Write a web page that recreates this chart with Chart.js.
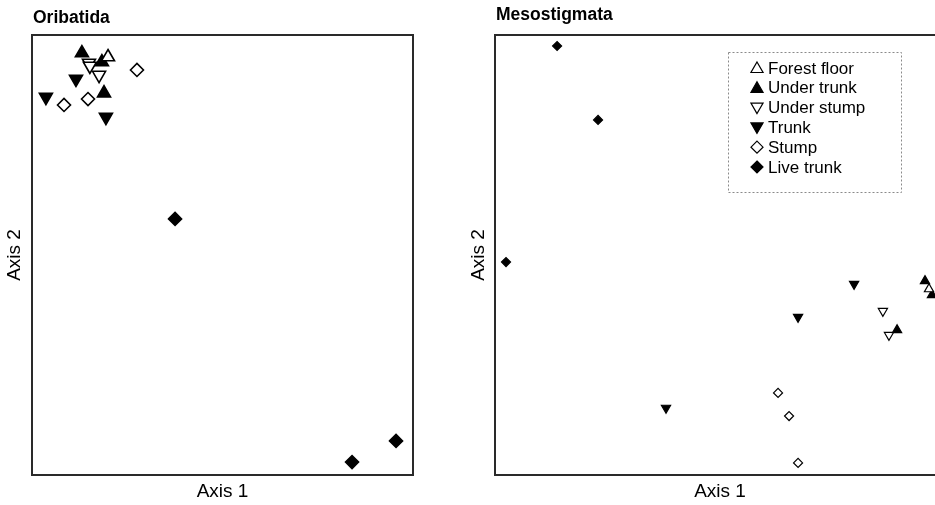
<!DOCTYPE html>
<html><head><meta charset="utf-8">
<script src="https://cdn.jsdelivr.net/npm/chart.js@4/dist/chart.umd.min.js"></script>
<style>
html,body{margin:0;padding:0;background:#fff;overflow:hidden;width:935px;height:505px;position:relative}
#c1{position:absolute;left:0;top:0}
#c2{position:absolute;left:464px;top:0}
</style></head><body>
<canvas id="c1" width="440" height="505"></canvas>
<canvas id="c2" width="500" height="505"></canvas>
<script>
// ---- data (NMDS-like scores) ----
const groupNames = ["Forest floor", "Under trunk", "Under stump", "Trunk", "Stump", "Live trunk"];

const oribForestFloor = [[-0.601, 0.900]];
const oribUnderTrunk  = [[-0.738, 0.918], [-0.633, 0.877], [-0.622, 0.736]];
const oribUnderStump  = [[-0.701, 0.873], [-0.696, 0.859], [-0.648, 0.818]];
const oribTrunk       = [[-0.769, 0.800], [-0.927, 0.718], [-0.612, 0.627]];
const oribStump       = [[-0.449, 0.841], [-0.832, 0.682], [-0.706, 0.709]];
const oribLiveTrunk   = [[-0.249, 0.164], [0.680, -0.941], [0.911, -0.845]];

const mesoForestFloor = [[0.929, -0.155]];
const mesoUnderTrunk  = [[0.911, -0.118], [0.942, -0.182], [0.787, -0.341]];
const mesoUnderStump  = [[0.724, -0.255], [0.751, -0.364]];
const mesoTrunk       = [[0.596, -0.132], [0.347, -0.282], [-0.240, -0.695]];
const mesoStump       = [[0.258, -0.627], [0.307, -0.732], [0.347, -0.945]];
const mesoLiveTrunk   = [[-0.724, 0.950], [-0.542, 0.614], [-0.951, -0.032]];

const oribatida = [oribForestFloor, oribUnderTrunk, oribUnderStump, oribTrunk, oribStump, oribLiveTrunk];
const mesostigmata = [mesoForestFloor, mesoUnderTrunk, mesoUnderStump, mesoTrunk, mesoStump, mesoLiveTrunk];

// ---- styles ----
const markerStyle = [
  {shape: 'triangle', rot: 0,   filled: false},
  {shape: 'triangle', rot: 0,   filled: true},
  {shape: 'triangle', rot: 180, filled: false},
  {shape: 'triangle', rot: 180, filled: true},
  {shape: 'rectRot',  rot: 0,   filled: false},
  {shape: 'rectRot',  rot: 0,   filled: true}
];
const FONT = "'Liberation Sans', Arial, Helvetica, sans-serif";

function makeDatasets(panel, triR, diaR, bw) {
  return panel.map((pts, i) => {
    const s = markerStyle[i];
    return {
      label: groupNames[i],
      data: pts.map(p => ({x: p[0], y: p[1]})),
      pointStyle: s.shape,
      rotation: s.rot,
      pointRadius: s.shape === 'triangle' ? triR : diaR,
      backgroundColor: s.filled ? '#000' : '#fff',
      borderColor: '#000',
      borderWidth: bw,
      clip: false
    };
  });
}

function drawMarker(ctx, s, r, bw, x, y) {
  ctx.save();
  ctx.beginPath();
  ctx.translate(x, y);
  ctx.rotate(s.rot * Math.PI / 180);
  if (s.shape === 'triangle') {
    for (let k = 0; k < 3; k++) {
      const a = k * 2 * Math.PI / 3;
      const px = Math.sin(a) * r, py = -Math.cos(a) * r;
      if (k === 0) ctx.moveTo(px, py); else ctx.lineTo(px, py);
    }
  } else {
    ctx.moveTo(0, -r); ctx.lineTo(r, 0); ctx.lineTo(0, r); ctx.lineTo(-r, 0);
  }
  ctx.closePath();
  ctx.fillStyle = s.filled ? '#000' : '#fff';
  ctx.fill();
  ctx.lineWidth = bw;
  ctx.strokeStyle = '#000';
  ctx.stroke();
  ctx.restore();
}

const framePlugin = {
  id: 'frame',
  beforeDatasetsDraw(chart) {
    const {ctx, chartArea: a} = chart;
    ctx.save();
    ctx.strokeStyle = '#2a2a2a';
    ctx.lineWidth = 2;
    ctx.strokeRect(a.left, a.top, a.right - a.left, a.bottom - a.top);
    ctx.restore();
  },
  afterDraw(chart, args, opts) {
    const {ctx, chartArea: a} = chart;
    ctx.save();
    ctx.fillStyle = '#000';
    ctx.font = 'bold 17.5px ' + FONT;
    ctx.textBaseline = 'middle';
    ctx.textAlign = 'left';
    ctx.fillText(opts.title, a.left + opts.dx, a.top - opts.dy);
    ctx.restore();
  }
};

const legendPlugin = {
  id: 'boxLegend',
  afterDatasetsDraw(chart, args, opts) {
    if (!opts.show) return;
    const {ctx, chartArea: a} = chart;
    const bx = a.left + 233, by = a.top + 17, bwid = 173, bh = 140;
    ctx.save();
    ctx.fillStyle = '#fff';
    ctx.fillRect(bx, by, bwid, bh);
    ctx.setLineDash([2, 2]);
    ctx.strokeStyle = '#8a8a8a';
    ctx.lineWidth = 1;
    ctx.strokeRect(bx + 0.5, by + 0.5, bwid, bh);
    ctx.setLineDash([]);
    ctx.font = '17px ' + FONT;
    ctx.textBaseline = 'middle';
    ctx.fillStyle = '#000';
    groupNames.forEach((name, i) => {
      const yy = by + 16 + i * 19.8;
      const s = markerStyle[i];
      drawMarker(ctx, s, s.shape === 'triangle' ? 7 : 6, 1.2, bx + 29, yy + (s.shape === 'triangle' ? (s.rot ? -1 : 1) : 0));
      ctx.fillStyle = '#000';
      ctx.fillText(name, bx + 40, yy + 1);
    });
    ctx.restore();
  }
};

function scales(yWidth) {
  const common = {
    type: 'linear', min: -1, max: 1,
    ticks: {display: false}, grid: {display: false}, border: {display: false}
  };
  return {
    x: Object.assign({}, common, {
      position: 'bottom',
      title: {display: true, text: 'Axis 1', color: '#000', font: {family: FONT, size: 19}, padding: {top: 2, bottom: 2}},
      afterFit(s) { s.height = 30; }
    }),
    y: Object.assign({}, common, {
      position: 'left',
      title: {display: true, text: 'Axis 2', color: '#000', font: {family: FONT, size: 19}, padding: {top: 3, bottom: 3}},
      afterFit(s) { s.width = yWidth; }
    })
  };
}

function makeChart(id, panel, title, triR, diaR, bw, yWidth, padRight, titleDy, showLegend) {
  return new Chart(document.getElementById(id), {
    type: 'scatter',
    data: {datasets: makeDatasets(panel, triR, diaR, bw)},
    options: {
      responsive: false,
      animation: false,
      devicePixelRatio: 1,
      events: [],
      layout: {padding: {top: 35, right: padRight, bottom: 0, left: 0}},
      scales: scales(yWidth),
      plugins: {
        legend: {display: false},
        tooltip: {enabled: false},
        title: {display: false},
        frame: {title: title, dx: 1, dy: titleDy},
        boxLegend: {show: showLegend}
      }
    },
    plugins: [framePlugin, legendPlugin]
  });
}

makeChart('c1', oribatida, 'Oribatida', 7.5, 6.5, 1.6, 32, 27, 17, false);
makeChart('c2', mesostigmata, 'Mesostigmata', 5.3, 4.5, 1.2, 31, 19, 20, true);
</script>
</body></html>
